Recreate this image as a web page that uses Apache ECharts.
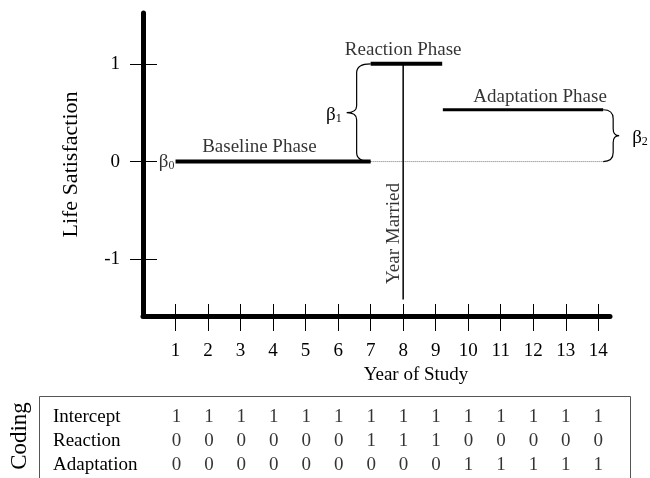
<!DOCTYPE html>
<html>
<head>
<meta charset="utf-8">
<script src="https://cdn.jsdelivr.net/npm/echarts@6/dist/echarts.min.js"></script>
<style>html,body{margin:0;padding:0;background:#fff}#c{width:650px;height:478px}</style>
</head>
<body>
<div id="c"></div>
<script>
// ---- data ----
const years = [1,2,3,4,5,6,7,8,9,10,11,12,13,14];
const yTicks = [-1, 0, 1];
const rowNames = ['Intercept', 'Reaction', 'Adaptation'];
const interceptCode  = [1,1,1,1,1,1,1,1,1,1,1,1,1,1];
const reactionCode   = [0,0,0,0,0,0,1,1,1,0,0,0,0,0];
const adaptationCode = [0,0,0,0,0,0,0,0,0,1,1,1,1,1];
const baselinePhase   = [[1, 0], [7, 0]];
const reactionPhase   = [[7, 1], [9.2, 1]];
const adaptationPhase = [[9.22, 0.53], [14.15, 0.53]];
const yearMarried     = [[8, 1], [8, -1.41]];
const zeroReference   = [[7, 0], [14.15, 0]];

// ---- styling / layout ----
const FONT = '"Liberation Serif","DejaVu Serif",serif';
const BLACK = '#000';
const subRich = { s: { fontSize: 12, fontFamily: FONT, color: BLACK, verticalAlign: 'bottom', padding: [9, 0, 0, 0] } };

const annotations = [
  { text: 'Baseline Phase', x: 3.58, y: 0.15 },
  { text: 'Reaction Phase', x: 8.0, y: 1.146 },
  { text: 'Adaptation Phase', x: 12.21, y: 0.664 },
  { text: 'Year Married', x: 7.73, y: -0.736, rotate: 90 }
];

const braces = [
  [reactionPhase[0][0], baselinePhase[0][1], reactionPhase[0][1], -1, 1],
  [adaptationPhase[1][0], baselinePhase[0][1], adaptationPhase[0][1], 1, 2]
];

const tableData = [];
[interceptCode, reactionCode, adaptationCode].forEach((row, r) => {
  row.forEach((v, i) => tableData.push([years[i], rowNames[r], v]));
});

function lineSeries(data, width, color, type) {
  return {
    type: 'line', xAxisIndex: 0, yAxisIndex: 0, data: data, showSymbol: false, symbol: 'none',
    lineStyle: { width: width, color: color || BLACK, type: type || 'solid', cap: 'butt' },
    silent: true, z: 3
  };
}

const chart = echarts.init(document.getElementById('c'), null, { renderer: 'canvas' });
chart.setOption({
  animation: false,
  backgroundColor: '#fff',
  textStyle: { fontFamily: FONT, color: BLACK },
  grid: [
    { left: 143, right: 40, top: 13, bottom: 162 },
    { left: 143, right: 40, top: 405, height: 72 }
  ],
  xAxis: [
    {
      gridIndex: 0, type: 'value', min: 0, max: 14.36, position: 'bottom',
      axisLine: { show: true, onZero: false, lineStyle: { color: BLACK, width: 5 } },
      axisTick: { show: true, customValues: years, length: 15, lineStyle: { color: BLACK, width: 1 } },
      axisLabel: { show: true, customValues: years, fontSize: 19, fontFamily: FONT, color: BLACK, margin: 26 },
      splitLine: { show: false },
      name: 'Year of Study', nameLocation: 'middle', nameGap: 50,
      nameTextStyle: { fontSize: 19, fontFamily: FONT, color: BLACK, padding: [0, 0, 0, 79] }
    },
    {
      gridIndex: 0, type: 'value', min: 0, max: 14.36, position: 'bottom',
      axisLine: { show: false, onZero: false },
      axisTick: { show: true, inside: true, customValues: years, length: 12, lineStyle: { color: BLACK, width: 1 } },
      axisLabel: { show: false }, splitLine: { show: false }
    },
    {
      gridIndex: 1, type: 'value', min: 0, max: 14.36, show: false
    }
  ],
  yAxis: [
    {
      gridIndex: 0, type: 'value', min: -1.58, max: 1.52, position: 'left',
      axisLine: { show: true, onZero: false, lineStyle: { color: BLACK, width: 5 } },
      axisTick: { show: true, customValues: yTicks, length: 13, lineStyle: { color: BLACK, width: 1 } },
      axisLabel: { show: true, customValues: yTicks, fontSize: 19, fontFamily: FONT, color: BLACK, margin: 23 },
      splitLine: { show: false },
      name: 'Life Satisfaction', nameLocation: 'middle', nameGap: 61,
      nameTextStyle: { fontSize: 22, fontFamily: FONT, color: BLACK }
    },
    {
      gridIndex: 0, type: 'value', min: -1.58, max: 1.52, position: 'left',
      axisLine: { show: false, onZero: false },
      axisTick: { show: true, inside: true, customValues: yTicks, length: 14, lineStyle: { color: BLACK, width: 1 } },
      axisLabel: { show: false }, splitLine: { show: false }
    },
    {
      gridIndex: 1, type: 'category', data: rowNames, inverse: true, position: 'left',
      axisLine: { show: false }, axisTick: { show: false }, splitLine: { show: false },
      axisLabel: { show: true, interval: 0, align: 'left', margin: 91, fontSize: 19, fontFamily: FONT, color: BLACK },
      name: 'Coding', nameLocation: 'middle', nameGap: 113,
      nameTextStyle: { fontSize: 23, fontFamily: FONT, color: BLACK, padding: [0, 0, 0, 10] }
    }
  ],
  graphic: [
    { type: 'rect', shape: { x: 39.5, y: 396.5, width: 591, height: 120 },
      style: { fill: 'none', stroke: '#555', lineWidth: 1 }, silent: true }
  ],
  series: [
    lineSeries(zeroReference, 1, '#777', 'dotted'),
    lineSeries(baselinePhase, 4),
    lineSeries(reactionPhase, 4),
    lineSeries(adaptationPhase, 3),
    lineSeries(yearMarried, 1.5),
    {
      type: 'custom', xAxisIndex: 0, yAxisIndex: 0, clip: false, silent: true, z: 4,
      data: braces,
      renderItem: function (params, api) {
        const x = api.value(0), y0 = api.value(1), y1 = api.value(2), s = api.value(3), idx = api.value(4);
        const pT = api.coord([x, y1]), pB = api.coord([x, y0]);
        const x0 = pT[0], yT = pT[1], yB = pB[1], yM = (yT + yB) / 2;
        const w = s < 0 ? 14 : 10, p = s < 0 ? 10 : 6, r = 9, r2 = 7;
        const xb = x0 + s * w, xp = x0 + s * (w + p);
        const d = 'M' + x0 + ' ' + yT + ' Q' + xb + ' ' + yT + ' ' + xb + ' ' + (yT + r) +
          ' L' + xb + ' ' + (yM - r2) + ' Q' + xb + ' ' + yM + ' ' + xp + ' ' + yM +
          ' Q' + xb + ' ' + yM + ' ' + xb + ' ' + (yM + r2) +
          ' L' + xb + ' ' + (yB - r) + ' Q' + xb + ' ' + yB + ' ' + x0 + ' ' + yB;
        return {
          type: 'group',
          children: [
            { type: 'path', shape: { pathData: d }, style: { fill: null, stroke: BLACK, lineWidth: 1.2 } },
            { type: 'text', x: xp + s * (s < 0 ? 5 : 13), y: yM + 2,
              style: { text: 'β{s|' + idx + '}', rich: subRich, fill: BLACK, fontSize: 19, fontFamily: FONT,
                       align: s < 0 ? 'right' : 'left', verticalAlign: 'middle' } }
          ]
        };
      }
    },
    {
      type: 'scatter', xAxisIndex: 0, yAxisIndex: 0, symbolSize: 0, silent: true, z: 5,
      itemStyle: { color: 'transparent' },
      label: { show: true, position: 'inside', color: BLACK, fontSize: 19, fontFamily: FONT },
      data: annotations.map(a => ({ value: [a.x, a.y], label: { formatter: a.text, rotate: a.rotate || 0 } })).concat([
        { value: baselinePhase[0], label: { formatter: 'β{s|0}', rich: subRich, position: 'left', distance: 1 } }
      ])
    },
    {
      type: 'scatter', xAxisIndex: 2, yAxisIndex: 2, symbolSize: 0, silent: true,
      itemStyle: { color: 'transparent' },
      label: { show: true, position: 'inside', color: BLACK, fontSize: 19, fontFamily: FONT,
               formatter: p => String(p.value[2]) },
      data: tableData
    }
  ]
});
</script>
</body>
</html>
